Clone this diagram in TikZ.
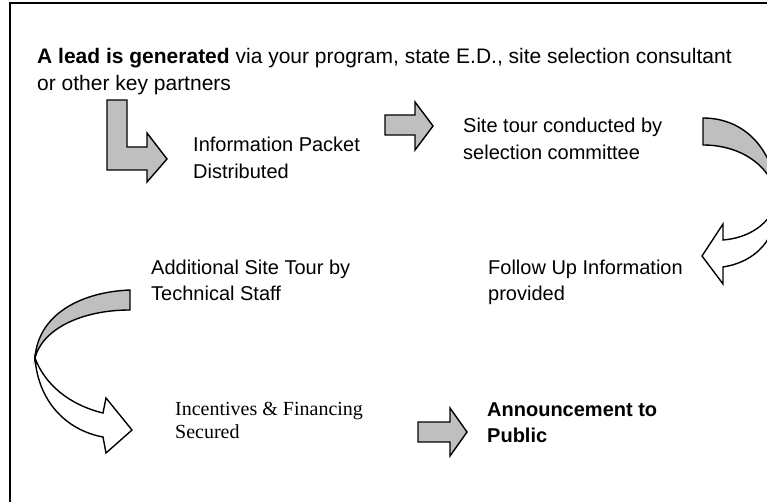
\documentclass[tikz,border=0pt]{standalone}
\usepackage{fontspec}
\setmainfont{Liberation Sans}
\newfontfamily\timesfont{Liberation Serif}

\tikzset{
  steptext/.style={anchor=base west, align=left, inner sep=0pt,
    font=\fontsize{20}{26.5}\selectfont},
  serifstep/.style={steptext, font=\timesfont\fontsize{20}{23}\selectfont},
  blockarrow/.style={draw, fill=black!25, line width=1.4pt, line join=miter},
  ribbonback/.style={draw, fill=white, line width=1.4pt, line join=miter},
}

\begin{document}
\begin{tikzpicture}[x=1pt, y=-1pt]

  \useasboundingbox (0,0) rectangle (767,502);
  \clip (0,0) rectangle (767,502);

  % ---- frame (runs past the right and bottom edges) ----
  \draw[line width=1.4pt] (10,3) rectangle (790,530);

  % ---- texts (placed at the baseline of their last line) ----
  \node[steptext, font=\fontsize{21}{27}\selectfont] (lead) at (37,91)
    {\textbf{A lead is generated} via your program, state E.D., site selection consultant\\or other key partners};
  \node[steptext] (packet) at (193,178.5) {Information Packet\\Distributed};
  \node[steptext] (tour) at (463,159.5) {Site tour conducted by\\selection committee};
  \node[steptext] (followup) at (488,300.5) {Follow Up Information\\provided};
  \node[steptext] (techtour) at (151,300.5) {Additional Site Tour by\\Technical Staff};
  \node[serifstep] (incentives) at (175,438) {Incentives \& Financing\\Secured};
  \node[steptext, font=\bfseries\fontsize{20}{26.5}\selectfont] (announce) at (487,442.5)
    {Announcement to\\Public};

  % ---- bent arrow into the packet ----
  \draw[blockarrow] (107,100) -- (127,100) -- (127,147) -- (147,147) -- (147,133)
    -- (167,159) -- (147,182) -- (147,170) -- (107,170) -- cycle;

  % ---- straight arrows ----
  \draw[blockarrow] (385,115) -- (415,115) -- (415,102) -- (433,126)
    -- (415,150) -- (415,135) -- (385,135) -- cycle;
  \draw[blockarrow] (418,422) -- (450,422) -- (450,408) -- (467,432)
    -- (450,456) -- (450,442) -- (418,442) -- cycle;

  % ---- curved arrow, right side: gray top face, white underside ----
  \draw[blockarrow] (703,118) .. controls (745,118) and (775,150) .. (778,200)
    .. controls (772,165) and (740,145) .. (703,145) -- cycle;
  \draw[ribbonback] (778,200) .. controls (770,225) and (748,238) .. (723,240)
    -- (723,224) -- (702,256) -- (723,284) -- (723,267)
    .. controls (755,262) and (778,240) .. (778,200) -- cycle;

  % ---- curved arrow, left side ----
  \draw[blockarrow] (130,290) .. controls (80,292) and (38,315) .. (35,358)
    .. controls (42,330) and (80,310) .. (130,310) -- cycle;
  \draw[ribbonback] (35,358) .. controls (45,385) and (70,405) .. (103,413)
    -- (106,398) -- (132,430) -- (106,453) -- (103,437)
    .. controls (65,430) and (38,400) .. (35,358) -- cycle;

\end{tikzpicture}
\end{document}
